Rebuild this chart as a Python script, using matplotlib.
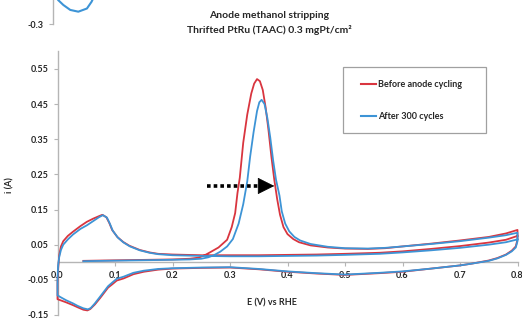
import matplotlib
matplotlib.use("Agg")
import matplotlib.pyplot as plt
from matplotlib.lines import Line2D
from matplotlib.patches import Rectangle

plt.rcParams['font.family'] = ['Lato', 'DejaVu Sans']
plt.rcParams['font.weight'] = 'bold'

# ---- data -------------------------------------------------------------
title_lines = ["Anode methanol stripping", "Thrifted PtRu (TAAC) 0.3 mgPt/cm\u00b2"]
x_label = "E (V) vs RHE"
y_label = "i (A)"
series_labels = ["Before anode cycling", "After 300 cycles"]

x_ticks = [0.0, 0.1, 0.2, 0.3, 0.4, 0.5, 0.6, 0.7, 0.8]
y_ticks = [-0.15, -0.05, 0.05, 0.15, 0.25, 0.35, 0.45, 0.55]

# Before anode cycling: stripping scan, cathodic return, second anodic scan
before_E = [0.045, 0.08, 0.12, 0.16, 0.20, 0.23, 0.245, 0.255, 0.265, 0.28, 0.295, 0.303,
            0.309, 0.313, 0.317, 0.323, 0.33, 0.337, 0.342, 0.347, 0.352, 0.357, 0.362,
            0.367, 0.372, 0.377, 0.382, 0.387, 0.393, 0.40, 0.41, 0.42, 0.44, 0.47, 0.50,
            0.54, 0.57, 0.60, 0.65, 0.70, 0.75, 0.78, 0.80,
            0.80, 0.797, 0.79, 0.78, 0.765, 0.75, 0.72, 0.70, 0.65, 0.60, 0.56, 0.50, 0.45,
            0.40, 0.35, 0.30, 0.25, 0.20, 0.175, 0.15, 0.132, 0.115, 0.103, 0.095, 0.088,
            0.081, 0.074, 0.065, 0.057, 0.052, 0.045, 0.035, 0.027, 0.015, 0.005, 0.0,
            0.0, 0.001, 0.003, 0.006, 0.01, 0.018, 0.027, 0.04, 0.051, 0.062, 0.072, 0.078,
            0.085, 0.09, 0.095, 0.104, 0.114, 0.125, 0.143, 0.16, 0.175, 0.20, 0.25, 0.30,
            0.35, 0.40, 0.45, 0.50, 0.56, 0.60, 0.65, 0.70, 0.75, 0.78, 0.80]
before_i = [0.004, 0.005, 0.006, 0.007, 0.008, 0.010, 0.013, 0.019, 0.028, 0.042, 0.064, 0.10,
            0.14, 0.197, 0.24, 0.34, 0.42, 0.48, 0.508, 0.521, 0.515, 0.49, 0.44,
            0.375, 0.30, 0.235, 0.18, 0.135, 0.10, 0.08, 0.066, 0.057, 0.048, 0.042, 0.039,
            0.038, 0.040, 0.045, 0.053, 0.062, 0.072, 0.082, 0.092,
            0.065, 0.045, 0.033, 0.022, 0.012, 0.005, -0.004, -0.009, -0.018, -0.027, -0.031,
            -0.036, -0.032, -0.027, -0.020, -0.015, -0.016, -0.018, -0.021, -0.027, -0.034,
            -0.046, -0.052, -0.063, -0.072, -0.087, -0.102, -0.120, -0.133, -0.137, -0.135,
            -0.128, -0.122, -0.114, -0.108, -0.105,
            -0.06, -0.02, 0.02, 0.045, 0.06, 0.075, 0.087, 0.103, 0.115, 0.124, 0.131, 0.135,
            0.128, 0.112, 0.092, 0.072, 0.058, 0.047, 0.035, 0.028, 0.024, 0.022, 0.020, 0.020,
            0.020, 0.021, 0.022, 0.024, 0.027, 0.031, 0.038, 0.046, 0.056, 0.064, 0.075]

# After 300 cycles
after_E = [0.045, 0.08, 0.12, 0.16, 0.20, 0.23, 0.25, 0.262, 0.272, 0.283, 0.295, 0.305,
           0.315, 0.323, 0.33, 0.335, 0.341, 0.347, 0.351, 0.355, 0.36, 0.365, 0.37, 0.375,
           0.38, 0.386, 0.39, 0.396, 0.403, 0.412, 0.422, 0.44, 0.47, 0.50, 0.54, 0.57, 0.60,
           0.65, 0.70, 0.75, 0.78, 0.80,
           0.80, 0.797, 0.79, 0.78, 0.765, 0.75, 0.72, 0.70, 0.65, 0.60, 0.56, 0.50, 0.45,
           0.40, 0.35, 0.30, 0.25, 0.20, 0.175, 0.15, 0.132, 0.115, 0.103, 0.095, 0.088,
           0.081, 0.074, 0.065, 0.058, 0.053, 0.045, 0.035, 0.027, 0.015, 0.005, 0.0,
           0.0, 0.001, 0.003, 0.006, 0.01, 0.018, 0.027, 0.04, 0.051, 0.062, 0.072, 0.079,
           0.086, 0.091, 0.096, 0.105, 0.115, 0.126, 0.143, 0.16, 0.175, 0.20, 0.25, 0.30,
           0.35, 0.40, 0.45, 0.50, 0.56, 0.60, 0.65, 0.70, 0.75, 0.78, 0.80]
after_i = [0.003, 0.004, 0.005, 0.006, 0.007, 0.008, 0.010, 0.014, 0.020, 0.030, 0.045, 0.066,
           0.11, 0.165, 0.23, 0.30, 0.37, 0.43, 0.455, 0.462, 0.45, 0.41, 0.355, 0.29,
           0.235, 0.19, 0.145, 0.11, 0.088, 0.072, 0.062, 0.052, 0.044, 0.040, 0.039, 0.041,
           0.045, 0.052, 0.060, 0.070, 0.077, 0.084,
           0.060, 0.042, 0.031, 0.021, 0.011, 0.004, -0.004, -0.009, -0.018, -0.026, -0.030,
           -0.035, -0.031, -0.026, -0.019, -0.014, -0.015, -0.017, -0.019, -0.024, -0.030,
           -0.041, -0.047, -0.058, -0.068, -0.083, -0.098, -0.117, -0.130, -0.134, -0.131,
           -0.124, -0.117, -0.108, -0.099, -0.094,
           -0.05, -0.01, 0.015, 0.035, 0.05, 0.065, 0.079, 0.095, 0.105, 0.117, 0.128, 0.134,
           0.127, 0.110, 0.090, 0.070, 0.056, 0.045, 0.034, 0.027, 0.023, 0.020, 0.018, 0.017,
           0.017, 0.018, 0.019, 0.021, 0.024, 0.028, 0.034, 0.041, 0.050, 0.057, 0.065]

# Tail of the neighbouring voltammogram above this panel
upper_E = [0.005, 0.009, 0.018, 0.03, 0.044, 0.059, 0.067, 0.072]
upper_i = [-0.22, -0.232, -0.246, -0.26, -0.265, -0.256, -0.237, -0.22]

# Peak-shift arrow (potential / current)
arrow_E = [0.26, 0.352, 0.377]
arrow_i = 0.217

# ---- styling ----------------------------------------------------------
red = '#d9353f'
blue = '#3d94d6'
axis_grey = '#b5b5b5'
text_col = '#262626'
W, H = 522, 320

fig = plt.figure(figsize=(W / 100, H / 100), dpi=100)

def fx(px):
    return px / W

def fy(py):
    return 1 - py / H

# main panel
ax = fig.add_axes([fx(57.5), fy(315), fx(517.5) - fx(57.5), fy(51.3) - fy(315)])
ax.set_xlim(0, 0.8)
ax.set_ylim(-0.15, 0.6)
ax.plot(before_E, before_i, color=red, lw=1.3, clip_on=False, zorder=3)
ax.plot(after_E, after_i, color=blue, lw=1.3, clip_on=False, zorder=3)

ax.spines['top'].set_visible(False)
ax.spines['right'].set_visible(False)
ax.spines['bottom'].set_position(('data', 0))
ax.spines['left'].set_position(('data', 0))
for s in ('bottom', 'left'):
    ax.spines[s].set_color(axis_grey)
    ax.spines[s].set_linewidth(1.0)
    ax.spines[s].set_zorder(1)

ax.set_xticks(x_ticks)
ax.set_xticklabels([f"{v:.1f}" for v in x_ticks])
ax.set_yticks(y_ticks)
ax.set_yticklabels([f"{v:.2f}" for v in y_ticks])
ax.tick_params(axis='both', direction='out', length=3, width=0.8, color=axis_grey,
               labelsize=6.5, labelcolor=text_col, pad=3.5)

# dotted arrow showing the peak shift
ax.plot(arrow_E[:2], [arrow_i, arrow_i], color='black', lw=2.6,
        linestyle=(0, (1.0, 0.85)), dash_capstyle='butt', zorder=4)
ax.annotate('', xy=(arrow_E[2], arrow_i), xytext=(arrow_E[1], arrow_i),
            arrowprops=dict(arrowstyle='-|>,head_length=1.1,head_width=0.55',
                            color='black', lw=0.5, shrinkA=0, shrinkB=0), zorder=5)

# legend
fig.patches.append(Rectangle((fx(343), fy(133)), fx(486) - fx(343), fy(67) - fy(133),
                             transform=fig.transFigure, fill=False,
                             edgecolor='#a0a0a0', lw=0.9))
handles = [Line2D([], [], color=red, lw=1.5), Line2D([], [], color=blue, lw=1.5)]
fig.legend(handles, series_labels, loc='center left',
           bbox_to_anchor=(fx(361), fy(100.5)), frameon=False, fontsize=6.5,
           handlelength=1.7, handletextpad=0.15, labelspacing=2.6, borderpad=0,
           borderaxespad=0, labelcolor=text_col)

# titles and axis labels
fig.text(fx(269), fy(15), title_lines[0], ha='center', va='center',
         fontsize=7.5, color=text_col)
fig.text(fx(269), fy(30), title_lines[1], ha='center', va='center',
         fontsize=7.5, color=text_col)
fig.text(fx(272), fy(303), x_label, ha='center', va='center', fontsize=6.5, color=text_col)
fig.text(fx(10), fy(185), y_label, ha='center', va='center', rotation=90,
         fontsize=6.5, color=text_col)

# neighbouring panel fragment at the top edge
ax2 = fig.add_axes([fx(53), fy(24), fx(460), 32 / H])
ax2.set_xlim(0, 0.8)
ax2.set_ylim(-0.3, -0.3 + 32 / 352)
ax2.plot(upper_E, upper_i, color=blue, lw=1.5)
for s in ('top', 'right', 'bottom'):
    ax2.spines[s].set_visible(False)
ax2.spines['left'].set_color(axis_grey)
ax2.spines['left'].set_linewidth(1.0)
ax2.set_xticks([])
ax2.set_yticks([-0.3])
ax2.set_yticklabels(["-0.3"])
ax2.tick_params(axis='y', direction='out', length=3, width=0.8, color=axis_grey,
                labelsize=6.5, labelcolor=text_col, pad=3.5)
ax2.patch.set_visible(False)

fig.savefig('out.png', dpi=100)
